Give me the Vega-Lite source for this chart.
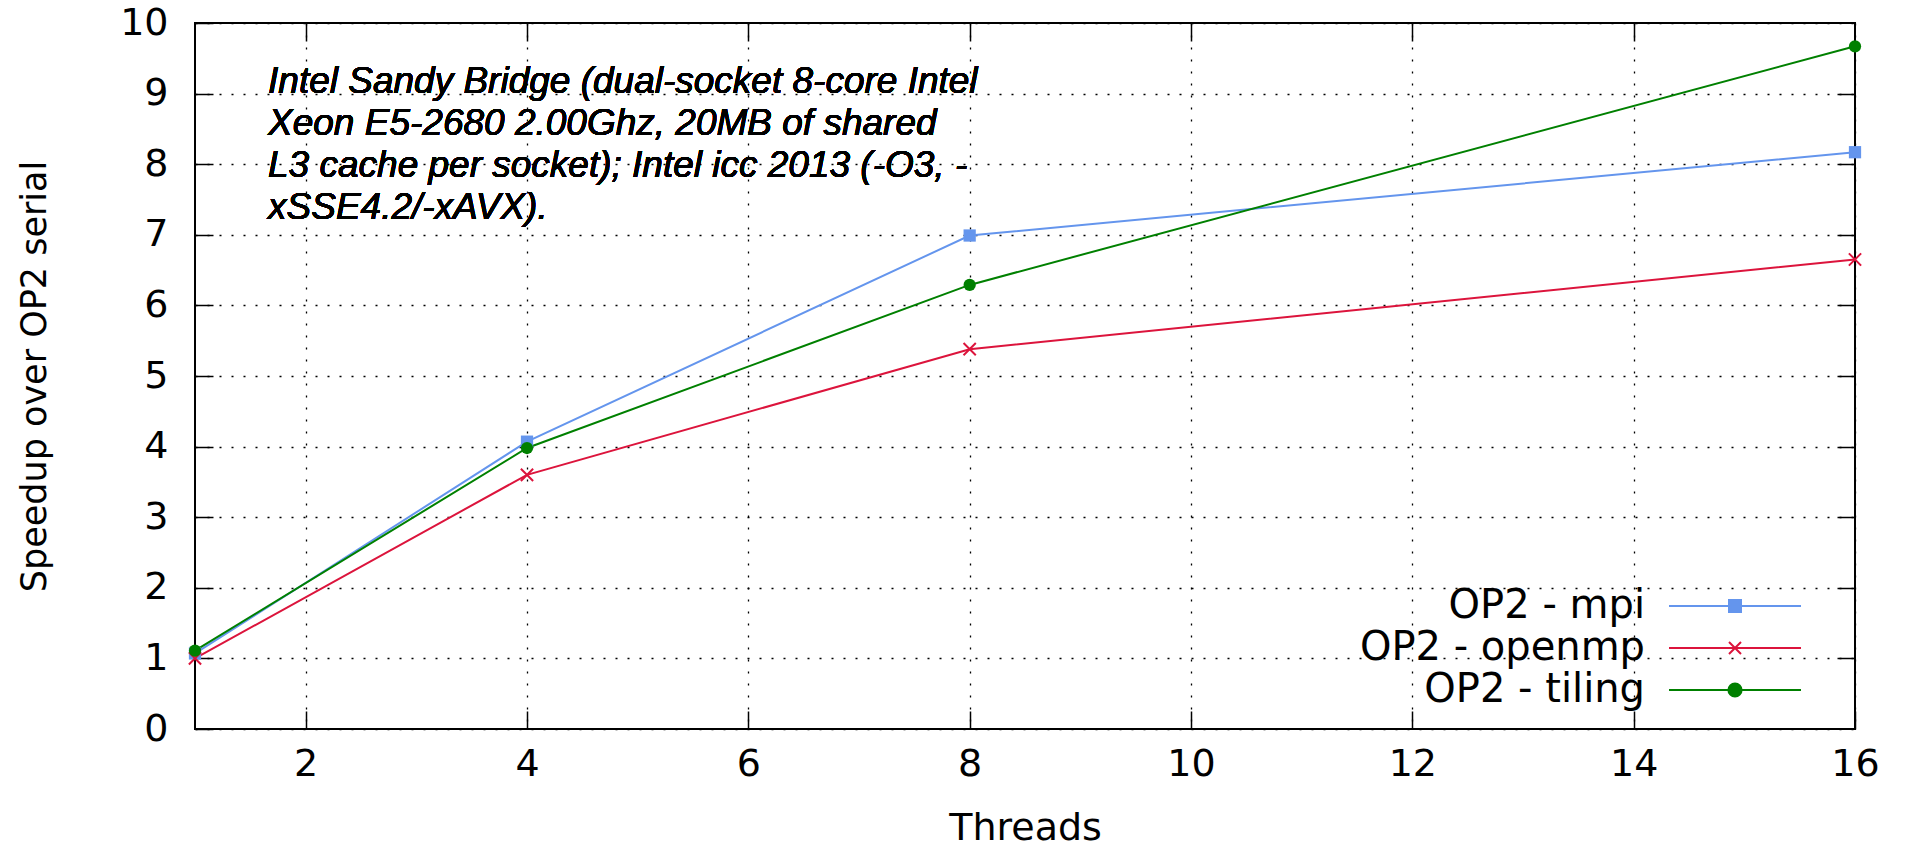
{
  "$schema": "https://vega.github.io/schema/vega-lite/v6.json",
  "width": 1660,
  "height": 706,
  "autosize": "none",
  "padding": {"left": 195, "top": 23, "right": 52, "bottom": 118},
  "background": "white",
  "config": {"view": {"stroke": "black", "strokeWidth": 2}, "font": "DejaVu Sans"},
  "data": {
    "values": [
      {"series": "OP2 - mpi", "threads": 1, "speedup": 1.07},
      {"series": "OP2 - mpi", "threads": 4, "speedup": 4.07},
      {"series": "OP2 - mpi", "threads": 8, "speedup": 6.99},
      {"series": "OP2 - mpi", "threads": 16, "speedup": 8.17},
      {"series": "OP2 - openmp", "threads": 1, "speedup": 1.0},
      {"series": "OP2 - openmp", "threads": 4, "speedup": 3.6},
      {"series": "OP2 - openmp", "threads": 8, "speedup": 5.38},
      {"series": "OP2 - openmp", "threads": 16, "speedup": 6.65},
      {"series": "OP2 - tiling", "threads": 1, "speedup": 1.11},
      {"series": "OP2 - tiling", "threads": 4, "speedup": 3.98},
      {"series": "OP2 - tiling", "threads": 8, "speedup": 6.29},
      {"series": "OP2 - tiling", "threads": 16, "speedup": 9.67}
    ]
  },
  "resolve": {"axis": {"x": "independent", "y": "independent"}},
  "layer": [
    {
      "mark": {"type": "line", "strokeWidth": 2, "clip": false},
      "encoding": {
        "x": {
          "field": "threads", "type": "quantitative",
          "scale": {"domain": [1, 16], "nice": false, "zero": false},
          "axis": {
            "values": [2, 4, 6, 8, 10, 12, 14, 16],
            "title": "Threads", "titleFontSize": 38, "titleFontWeight": "normal", "titleColor": "black", "titlePadding": 26,
            "labelFontSize": 38, "labelColor": "black", "labelPadding": 34, "labelFlush": false,
            "tickSize": -18, "tickColor": "black", "tickWidth": 1.5,
            "domain": false,
            "grid": true, "gridColor": "black", "gridDash": [2, 10], "gridWidth": 1.3
          }
        },
        "y": {
          "field": "speedup", "type": "quantitative",
          "scale": {"domain": [0, 10], "nice": false},
          "axis": {
            "values": [0, 1, 2, 3, 4, 5, 6, 7, 8, 9, 10],
            "title": "Speedup over OP2 serial", "titleFontSize": 35, "titleFontWeight": "normal", "titleColor": "black", "titlePadding": 67,
            "labelFontSize": 38, "labelColor": "black", "labelPadding": 45, "labelFlush": false,
            "tickSize": -18, "tickColor": "black", "tickWidth": 1.5,
            "domain": false,
            "grid": true, "gridColor": "black", "gridDash": [2, 10], "gridWidth": 1.3
          }
        },
        "color": {
          "field": "series", "type": "nominal",
          "scale": {"domain": ["OP2 - mpi", "OP2 - openmp", "OP2 - tiling"], "range": ["#6495ED", "#DC143C", "#008000"]},
          "legend": {
            "orient": "none", "legendX": 1520, "legendY": 563,
            "title": null, "padding": 0,
            "labelFontSize": 40, "labelColor": "black", "labelAlign": "right", "labelOffset": -110, "labelLimit": 600,
            "symbolSize": 144, "symbolStrokeWidth": 2, "rowPadding": 2,
            "encode": {
              "symbols": {
                "update": {
                  "shape": [
                    {"test": "datum.value === 'OP2 - mpi'", "value": "M-11,0H11M-1,-1H1V1H-1Z"},
                    {"test": "datum.value === 'OP2 - openmp'", "value": "M-11,0H11M-1,-1L1,1M-1,1L1,-1"},
                    {"value": "M-11,0H11M-1.1,0A1.1,1.1 0 1,0 1.1,0A1.1,1.1 0 1,0 -1.1,0Z"}
                  ],
                  "fill": [
                    {"test": "datum.value === 'OP2 - mpi'", "value": "#6495ED"},
                    {"test": "datum.value === 'OP2 - openmp'", "value": "#DC143C"},
                    {"value": "#008000"}
                  ],
                  "stroke": [
                    {"test": "datum.value === 'OP2 - mpi'", "value": "#6495ED"},
                    {"test": "datum.value === 'OP2 - openmp'", "value": "#DC143C"},
                    {"value": "#008000"}
                  ],
                  "fillOpacity": {"value": 1},
                  "opacity": {"value": 1}
                }
              }
            }
          }
        }
      }
    },
    {
      "transform": [{"filter": "datum.series === 'OP2 - mpi'"}],
      "mark": {"type": "point", "shape": "square", "filled": true, "size": 150, "color": "#6495ED", "opacity": 1, "clip": false},
      "encoding": {
        "x": {"field": "threads", "type": "quantitative", "axis": null},
        "y": {"field": "speedup", "type": "quantitative", "axis": null}
      }
    },
    {
      "transform": [{"filter": "datum.series === 'OP2 - openmp'"}],
      "mark": {"type": "point", "shape": "M-1,-1L1,1M-1,1L1,-1", "filled": false, "size": 150, "strokeWidth": 2, "color": "#DC143C", "opacity": 1, "clip": false},
      "encoding": {
        "x": {"field": "threads", "type": "quantitative", "axis": null},
        "y": {"field": "speedup", "type": "quantitative", "axis": null}
      }
    },
    {
      "transform": [{"filter": "datum.series === 'OP2 - tiling'"}],
      "mark": {"type": "point", "shape": "circle", "filled": true, "size": 150, "color": "#008000", "opacity": 1, "clip": false},
      "encoding": {
        "x": {"field": "threads", "type": "quantitative", "axis": null},
        "y": {"field": "speedup", "type": "quantitative", "axis": null}
      }
    },
    {
      "mark": {
        "type": "text",
        "text": [
          "Intel Sandy Bridge (dual-socket 8-core Intel",
          "Xeon E5-2680 2.00Ghz, 20MB of shared",
          "L3 cache per socket); Intel icc 2013 (-O3, -",
          "xSSE4.2/-xAVX)."
        ],
        "align": "left", "baseline": "top",
        "font": "Liberation Sans", "fontStyle": "italic", "fontSize": 37, "lineHeight": 42, "color": "black"
      },
      "encoding": {
        "x": {
          "datum": 1.66, "type": "quantitative",
          "axis": {"orient": "top", "values": [2, 4, 6, 8, 10, 12, 14], "labels": false, "title": null, "grid": false, "domain": false, "tickSize": -18, "tickColor": "black", "tickWidth": 1.5}
        },
        "y": {
          "datum": 9.42, "type": "quantitative",
          "axis": {"orient": "right", "values": [1, 2, 3, 4, 5, 6, 7, 8, 9], "labels": false, "title": null, "grid": false, "domain": false, "tickSize": -18, "tickColor": "black", "tickWidth": 1.5}
        }
      }
    }
  ]
}
